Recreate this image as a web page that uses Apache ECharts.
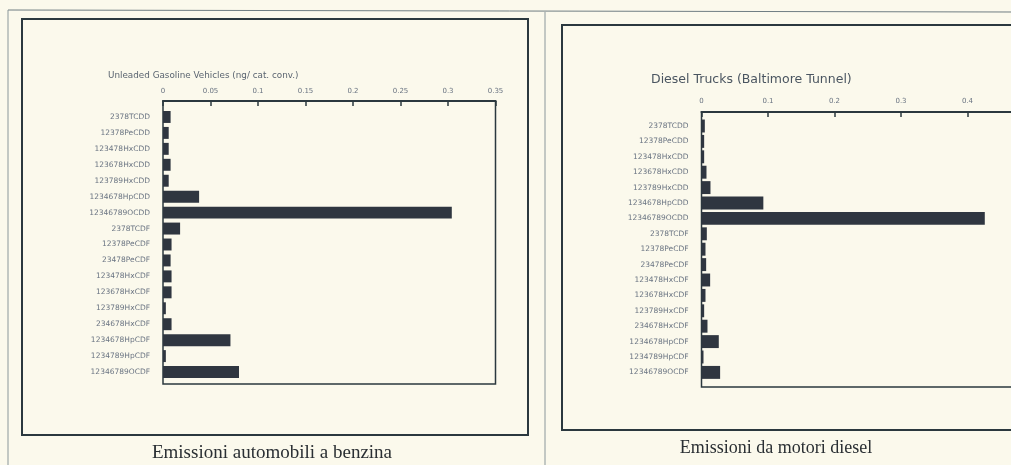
<!DOCTYPE html>
<html>
<head>
<meta charset="utf-8">
<script src="https://cdn.jsdelivr.net/npm/echarts@6/dist/echarts.min.js"></script>
<style>
html,body{margin:0;padding:0;background:#fbf9ec;}
#c{width:1011px;height:465px;}
</style>
</head>
<body>
<div id="c"></div>
<script>
// ---- data ----
var categories = ['2378TCDD','12378PeCDD','123478HxCDD','123678HxCDD','123789HxCDD','1234678HpCDD','12346789OCDD',
  '2378TCDF','12378PeCDF','23478PeCDF','123478HxCDF','123678HxCDF','123789HxCDF','234678HxCDF','1234678HpCDF','1234789HpCDF','12346789OCDF'];
var gasolineValues = [0.008,0.006,0.006,0.008,0.006,0.038,0.304,0.018,0.009,0.008,0.009,0.009,0.003,0.009,0.071,0.003,0.080];
var dieselValues = [0.005,0.004,0.004,0.0075,0.0135,0.093,0.426,0.008,0.006,0.007,0.013,0.006,0.004,0.009,0.026,0.003,0.028];
var gasolineTitle = 'Unleaded Gasoline Vehicles (ng/ cat. conv.)';
var dieselTitle = 'Diesel Trucks (Baltimore Tunnel)';
var gasolineCaption = 'Emissioni automobili a benzina';
var dieselCaption = 'Emissioni da motori diesel';

var lineCol = '#2b383e';
var barCol = '#2f3640';
var labCol = '#6a7482';

var chart = echarts.init(document.getElementById('c'));

function frameX(idx, max, interval, margin){
  return {gridIndex: idx, type:'value', position:'top', min:0, max:max, interval:interval,
    axisLine:{show:true, onZero:false, lineStyle:{color:lineCol, width:2}},
    axisTick:{show:true, inside:true, length:5, lineStyle:{color:lineCol, width:1.5}},
    axisLabel:{color:labCol, fontSize:7, fontFamily:'DejaVu Sans', margin:margin},
    splitLine:{show:false}};
}
function barX(idx, max){
  return {gridIndex: idx, type:'value', min:0, max:max, show:false,
    axisLine:{show:false}, axisTick:{show:false}, axisLabel:{show:false}, splitLine:{show:false}};
}
function barY(idx){
  return {gridIndex: idx, type:'category', data:categories, inverse:true,
    axisLine:{show:false}, axisTick:{show:false},
    axisLabel:{color:labCol, fontSize:7.5, fontFamily:'DejaVu Sans', margin:13, interval:0}};
}
function frameY(idx){
  return {gridIndex: idx, type:'value', min:0, max:1, show:false,
    axisLine:{show:false}, axisTick:{show:false}, axisLabel:{show:false}, splitLine:{show:false}};
}

var option = {
  backgroundColor:'#fbf9ec',
  animation:false,
  title:[
    {text:gasolineTitle, left:103, top:66, textStyle:{fontSize:8.8, fontWeight:'normal', color:'#5a6470', fontFamily:'DejaVu Sans'}},
    {text:dieselTitle, left:646, top:68, textStyle:{fontSize:12.5, fontWeight:'normal', color:'#4a5560', fontFamily:'DejaVu Sans'}},
    {text:gasolineCaption, left:267, textAlign:'center', top:439, textStyle:{fontSize:19, fontWeight:'normal', color:'#2a2f33', fontFamily:'Liberation Serif'}},
    {text:dieselCaption, left:771, textAlign:'center', top:434, textStyle:{fontSize:18, fontWeight:'normal', color:'#2a2f33', fontFamily:'Liberation Serif'}}
  ],
  graphic:[
    {type:'line', shape:{x1:8,y1:10,x2:1011,y2:12}, style:{stroke:'#6f7d82', lineWidth:1}},
    {type:'line', shape:{x1:8,y1:10,x2:8,y2:465}, style:{stroke:'#8a979b', lineWidth:1}},
    {type:'line', shape:{x1:545,y1:12,x2:545,y2:465}, style:{stroke:'#8a979b', lineWidth:1}},
    {type:'rect', shape:{x:22,y:19,width:506,height:416}, style:{fill:'none', stroke:lineCol, lineWidth:2}},
    {type:'rect', shape:{x:562,y:25,width:470,height:405}, style:{fill:'none', stroke:lineCol, lineWidth:2}}
  ],
  grid:[
    {left:163, width:332.5, top:101, height:283, show:true, borderColor:lineCol, borderWidth:1.5, backgroundColor:'transparent', outerBoundsMode:'none', containLabel:false},
    {left:163, width:332.5, top:109, height:271, outerBoundsMode:'none', containLabel:false},
    {left:701.5, width:332.5, top:112, height:275, show:true, borderColor:lineCol, borderWidth:1.5, backgroundColor:'transparent', outerBoundsMode:'none', containLabel:false},
    {left:701.5, width:332.5, top:118.3, height:261.8, outerBoundsMode:'none', containLabel:false}
  ],
  xAxis:[frameX(0,0.35,0.05,6), barX(1,0.35), frameX(2,0.5,0.1,7), barX(3,0.5)],
  yAxis:[frameY(0), barY(1), frameY(2), barY(3)],
  series:[
    {type:'bar', xAxisIndex:1, yAxisIndex:1, data:gasolineValues, barCategoryGap:'25%', itemStyle:{color:barCol}},
    {type:'bar', xAxisIndex:3, yAxisIndex:3, data:dieselValues, barCategoryGap:'16%', itemStyle:{color:barCol}}
  ]
};
chart.setOption(option);
</script>
</body>
</html>
